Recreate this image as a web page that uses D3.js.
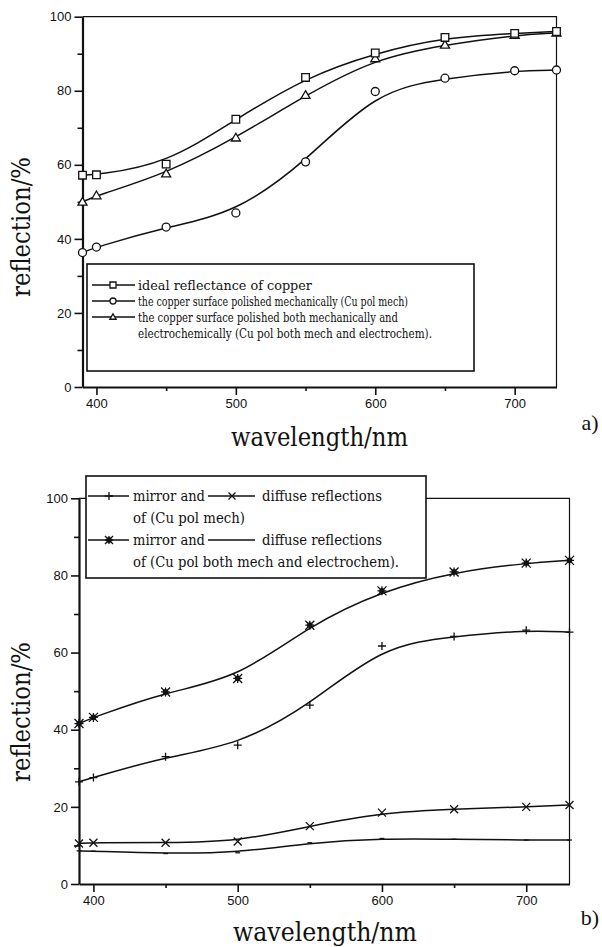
<!DOCTYPE html>
<html>
<head>
<meta charset="utf-8">
<script src="https://cdn.jsdelivr.net/npm/d3@7"></script>
<style>
  body { margin: 0; background: #fff; }
  svg { display: block; }
</style>
</head>
<body>
<svg id="chart" width="602" height="947"></svg>
<script>
// Wavelength grid shared by all series (nm)
const wavelengths = [390, 400, 450, 500, 550, 600, 650, 700, 730];

// Panel a) total reflection, %
const idealCopper = [57.2, 57.3, 60.2, 72.3, 83.6, 90.2, 94.4, 95.5, 96.0];
const polMech     = [36.3, 37.8, 43.2, 47.0, 60.8, 79.8, 83.4, 85.4, 85.6];
const polBoth     = [50.0, 51.7, 57.6, 67.3, 78.8, 88.7, 92.4, 95.0, 95.6];

// Panel b) mirror and diffuse reflection, %
const mirrorPolMech  = [26.5, 27.6, 33.0, 36.0, 46.4, 61.7, 64.2, 65.8, 65.3];
const diffusePolMech = [10.5, 10.7, 10.7, 11.0, 15.0, 18.5, 19.4, 20.0, 20.5];
const mirrorPolBoth  = [41.6, 43.2, 49.8, 53.3, 67.1, 76.0, 80.9, 83.2, 83.9];
const diffusePolBoth = [8.6, 8.5, 7.9, 8.1, 10.7, 11.8, 11.6, 11.4, 11.4];

// Axis ticks
const xMajorTicks = [400, 500, 600, 700];
const xMinorTicks = [450, 550, 650];
const yMajorTicks = [0, 20, 40, 60, 80, 100];
const yMinorTicks = [10, 30, 50, 70, 90];

// Legend texts
const legendA = [
  "ideal reflectance of copper",
  "the copper surface polished mechanically (Cu pol mech)",
  "the copper surface polished both mechanically and",
  "electrochemically (Cu pol both mech and electrochem)."
];
const legendB = {
  mirror: "mirror and",
  diffuse: "diffuse reflections",
  ofMech: "of (Cu pol mech)",
  ofBoth: "of (Cu pol both mech and electrochem)."
};

const svg = d3.select("#chart");
const INK = "#111";
const SERIF = "'DejaVu Serif', 'Liberation Serif', serif";
const SANS = "'Liberation Sans', Arial, sans-serif";

// Marker path builders, centred on 0,0
const markers = {
  square: s => `M${-s},${-s}H${s}V${s}H${-s}Z`,
  circle: s => `M${s},0A${s},${s} 0 1,1 ${-s},0A${s},${s} 0 1,1 ${s},0Z`,
  triangle: s => `M0,${-s * 1.05}L${s * 1.05},${s * 0.75}L${-s * 1.05},${s * 0.75}Z`,
  plus: s => `M${-s},0H${s}M0,${-s}V${s}`,
  times: s => `M${-s},${-s}L${s},${s}M${-s},${s}L${s},${-s}`,
  star: s => `M${-s},${-s}L${s},${s}M${-s},${s}L${s},${-s}M${-s},0H${s}M0,${-s}V${s}` +
             `M-2,-2H2V2H-2Z`,
  dash: s => `M${-s * 0.6},0H${s * 0.6}`
};

function drawMarker(g, type, cx, cy, size) {
  const p = g.append("path")
    .attr("transform", `translate(${cx},${cy})`)
    .attr("d", markers[type](size))
    .attr("stroke", INK)
    .attr("stroke-width", 1.3);
  if (type === "square" || type === "circle" || type === "triangle") p.attr("fill", "#fff");
  else if (type === "star") p.attr("fill", INK);
  else p.attr("fill", "none");
}

function panel(cfg) {
  const g = svg.append("g");
  const x = d3.scaleLinear().domain([390, 730]).range([cfg.left, cfg.right]);
  const y = d3.scaleLinear().domain([0, 100]).range([cfg.bottom, cfg.top]);

  // thin top / right frame
  g.append("path")
    .attr("d", `M${cfg.left},${cfg.top}H${cfg.right}V${cfg.bottom}`)
    .attr("fill", "none").attr("stroke", INK).attr("stroke-width", 1.2);

  // y axis
  const yAxis = g.append("g").attr("transform", `translate(${cfg.left},0)`)
    .call(d3.axisLeft(y).tickValues(yMajorTicks).tickSize(8).tickSizeOuter(0).tickPadding(3));
  g.append("g").attr("transform", `translate(${cfg.left},0)`)
    .call(d3.axisLeft(y).tickValues(yMinorTicks).tickSize(5).tickFormat(""))
    .call(a => a.select(".domain").remove());

  // x axis
  const xAxis = g.append("g").attr("transform", `translate(0,${cfg.bottom})`)
    .call(d3.axisBottom(x).tickValues(xMajorTicks).tickSize(8).tickSizeOuter(0).tickPadding(4));
  g.append("g").attr("transform", `translate(0,${cfg.bottom})`)
    .call(d3.axisBottom(x).tickValues(xMinorTicks).tickSize(4).tickFormat(""))
    .call(a => a.select(".domain").remove());

  g.selectAll(".domain").attr("stroke", INK).attr("stroke-width", 2.2);
  g.selectAll(".tick line").attr("stroke", INK).attr("stroke-width", 1.6);
  g.selectAll(".tick text").attr("fill", INK)
    .style("font-family", SANS).style("font-size", "13px");

  // axis titles
  g.append("text")
    .attr("x", cfg.xTitleX).attr("y", cfg.xTitleY)
    .attr("text-anchor", "middle")
    .attr("textLength", cfg.xTitleW).attr("lengthAdjust", "spacingAndGlyphs")
    .style("font-family", SERIF).style("font-size", "26px").attr("fill", INK)
    .text("wavelength/nm");
  g.append("text")
    .attr("transform", `translate(${cfg.yTitleX},${cfg.yTitleY}) rotate(-90)`)
    .attr("text-anchor", "middle")
    .attr("textLength", 140).attr("lengthAdjust", "spacingAndGlyphs")
    .style("font-family", SERIF).style("font-size", "26px").attr("fill", INK)
    .text("reflection/%");
  g.append("text")
    .attr("x", 590).attr("y", cfg.tagY)
    .attr("text-anchor", "middle")
    .style("font-family", "'Liberation Serif', serif").style("font-size", "22px").attr("fill", INK)
    .text(cfg.tag);

  // curves + markers
  const line = d3.line().x(d => x(d[0])).y(d => y(d[1])).curve(d3.curveBasis);
  cfg.series.forEach(s => {
    const pts = wavelengths.map((w, i) => [w, s.values[i]]);
    g.append("path").attr("d", line(pts))
      .attr("fill", "none").attr("stroke", INK).attr("stroke-width", 1.5);
    pts.forEach(p => drawMarker(g, s.marker, x(p[0]), y(p[1]), s.size));
  });
  return g;
}

// ---------- panel a) ----------
const gA = panel({
  left: 82.5, right: 556.5, top: 16.7, bottom: 387,
  xTitleX: 319.5, xTitleY: 446, xTitleW: 177,
  yTitleX: 30, yTitleY: 227,
  tag: "a)", tagY: 430,
  series: [
    { values: polMech, marker: "circle", size: 4 },
    { values: polBoth, marker: "triangle", size: 4.3 },
    { values: idealCopper, marker: "square", size: 3.8 }
  ]
});

// legend a)
{
  const lg = svg.append("g");
  lg.append("rect").attr("x", 87).attr("y", 264).attr("width", 387).attr("height", 107)
    .attr("fill", "#fff").attr("stroke", INK).attr("stroke-width", 1.6);
  const rows = [285, 301, 317, 333];
  const syms = ["square", "circle", "triangle", null];
  const widths = [174, 270, 260, 294];
  legendA.forEach((t, i) => {
    if (syms[i]) {
      lg.append("line").attr("x1", 92).attr("x2", 135).attr("y1", rows[i]).attr("y2", rows[i])
        .attr("stroke", INK).attr("stroke-width", 1.3);
      drawMarker(lg, syms[i], 113, rows[i], 3);
    }
    lg.append("text").attr("x", 138).attr("y", rows[i] + 4.5)
      .attr("textLength", widths[i]).attr("lengthAdjust", "spacingAndGlyphs")
      .style("font-family", SERIF).style("font-size", "13.5px").attr("fill", INK)
      .text(t);
  });
}

// ---------- panel b) ----------
const gB = panel({
  left: 79, right: 569.5, top: 498.3, bottom: 884,
  xTitleX: 325, xTitleY: 941, xTitleW: 184,
  yTitleX: 30, yTitleY: 712,
  tag: "b)", tagY: 925,
  series: [
    { values: mirrorPolBoth, marker: "star", size: 4.5 },
    { values: mirrorPolMech, marker: "plus", size: 4 },
    { values: diffusePolMech, marker: "times", size: 4 },
    { values: diffusePolBoth, marker: "dash", size: 4 }
  ]
});

// legend b)
{
  const lg = svg.append("g");
  lg.append("rect").attr("x", 86).attr("y", 476).attr("width", 340).attr("height", 102)
    .attr("fill", "#fff").attr("stroke", INK).attr("stroke-width", 1.6);
  const rows = [496, 518, 540, 562];
  const seg = (x1, x2, yy) => lg.append("line").attr("x1", x1).attr("x2", x2)
    .attr("y1", yy).attr("y2", yy).attr("stroke", INK).attr("stroke-width", 1.3);
  const txt = (t, xx, yy, w) => lg.append("text").attr("x", xx).attr("y", yy + 5)
    .attr("textLength", w).attr("lengthAdjust", "spacingAndGlyphs")
    .style("font-family", SERIF).style("font-size", "15px").attr("fill", INK).text(t);

  seg(88, 129, rows[0]); drawMarker(lg, "plus", 109, rows[0], 4);
  txt(legendB.mirror, 133, rows[0], 72);
  seg(208, 255, rows[0]); drawMarker(lg, "times", 232, rows[0], 3.5);
  txt(legendB.diffuse, 262, rows[0], 120);
  txt(legendB.ofMech, 133, rows[1], 112);

  seg(88, 129, rows[2]); drawMarker(lg, "star", 109, rows[2], 4);
  txt(legendB.mirror, 133, rows[2], 72);
  seg(208, 255, rows[2]);
  txt(legendB.diffuse, 262, rows[2], 120);
  txt(legendB.ofBoth, 133, rows[3], 266);
}
</script>
</body>
</html>
